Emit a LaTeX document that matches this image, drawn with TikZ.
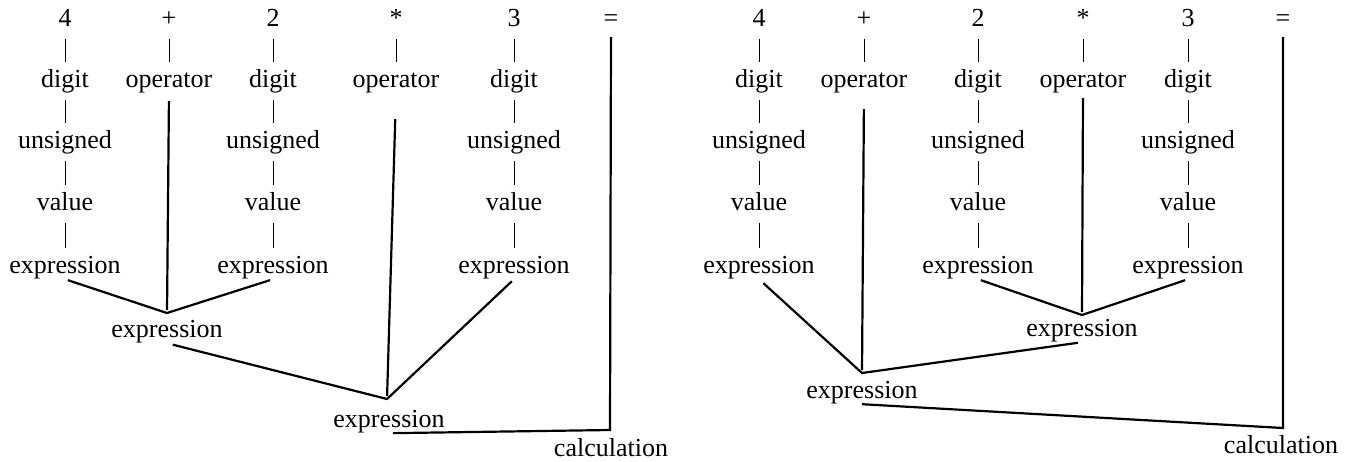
\documentclass[tikz,border=0pt]{standalone}
\usepackage{fontspec}
\setmainfont{Liberation Serif}
\usetikzlibrary{calc}
\tikzset{
  word/.style={anchor=base,inner sep=0pt,text height=18pt,text depth=6pt,
               font=\fontsize{26}{30}\selectfont},
  bar/.style={line width=0.9pt,shorten <=7pt,shorten >=7pt},
  link/.style={line width=2.2pt,shorten <=3pt,shorten >=3pt}
}

\begin{document}
\begin{tikzpicture}[x=1pt,y=-1pt]
  \useasboundingbox (0,0) rectangle (1349,461);
  % left: 4 + 2 first
  \node[word] (lt1) at (65,26) {4};
  \node[word] (lt2) at (169,26) {+};
  \node[word] (lt3) at (273,26) {2};
  \node[word] (lt4) at (396,26) {*};
  \node[word] (lt5) at (514,26) {3};
  \node[word] (lt6) at (611,26) {=};
  \node[word] (lop1) at (169,87) {operator};
  \node[word] (lop2) at (396,87) {operator};
  \draw[bar] (lt2) -- (lop1);
  \draw[bar] (lt4) -- (lop2);
  \foreach \c/\x in {1/65,3/273,5/514}{
    \node[word] (ld\c) at (\x,87) {digit};
    \node[word] (lu\c) at (\x,148) {unsigned};
    \node[word] (lv\c) at (\x,210) {value};
    \node[word] (le\c) at (\x,273) {expression};
    \draw[bar] (lt\c) -- (ld\c);
    \draw[bar] (ld\c) -- (lu\c);
    \draw[bar] (lu\c) -- (lv\c);
    \draw[bar] (lv\c) -- (le\c);
  }
  \coordinate (lj1) at (167,313);
  \coordinate (lj2) at (387,399);
  \coordinate (ljc) at (610,430);
  \node[word] (lex2) at (167,337) {expression};
  \node[word] (lex3) at (389,427) {expression};
  \node[word] (lcalc) at (611,456) {calculation};
  \draw[link] (le1.south) -- (lj1) -- (le3.south);
  \draw[link,shorten <=8pt] (lop1.south) -- (lj1);
  \draw[link,shorten <=6pt] (lex2.south) -- (lj2) -- (le5.south);
  \draw[link,shorten <=26pt] (lop2.south) -- (lj2);
  \draw[link,shorten <=4pt,shorten >=5pt] (lex3.south) -- (ljc) -- (lt6.south);

  % right: 2 * 3 first
  \node[word] (rt1) at (759,26) {4};
  \node[word] (rt2) at (864,26) {+};
  \node[word] (rt3) at (978,26) {2};
  \node[word] (rt4) at (1083,26) {*};
  \node[word] (rt5) at (1188,26) {3};
  \node[word] (rt6) at (1283,26) {=};
  \node[word] (rop1) at (864,87) {operator};
  \node[word] (rop2) at (1083,87) {operator};
  \draw[bar] (rt2) -- (rop1);
  \draw[bar] (rt4) -- (rop2);
  \foreach \c/\x in {1/759,3/978,5/1188}{
    \node[word] (rd\c) at (\x,87) {digit};
    \node[word] (ru\c) at (\x,148) {unsigned};
    \node[word] (rv\c) at (\x,210) {value};
    \node[word] (re\c) at (\x,273) {expression};
    \draw[bar] (rt\c) -- (rd\c);
    \draw[bar] (rd\c) -- (ru\c);
    \draw[bar] (ru\c) -- (rv\c);
    \draw[bar] (rv\c) -- (re\c);
  }
  \coordinate (rj1) at (1082,315);
  \coordinate (rj2) at (862,373);
  \coordinate (rjc) at (1283,428);
  \node[word] (rex2) at (1082,336) {expression};
  \node[word] (rex3) at (862,398) {expression};
  \node[word] (rcalc) at (1281,453) {calculation};
  \draw[link] (re3.south) -- (rj1) -- (re5.south);
  \draw[link,shorten <=5pt] (rop2.south) -- (rj1);
  \draw[link,shorten <=6pt,shorten >=4pt] (re1.south) -- (rj2) -- (rex2.south);
  \draw[link,shorten <=16pt] (rop1.south) -- (rj2);
  \draw[link,shorten <=0pt,shorten >=5pt] (rex3.south) -- (rjc) -- (rt6.south);
\end{tikzpicture}
\end{document}
